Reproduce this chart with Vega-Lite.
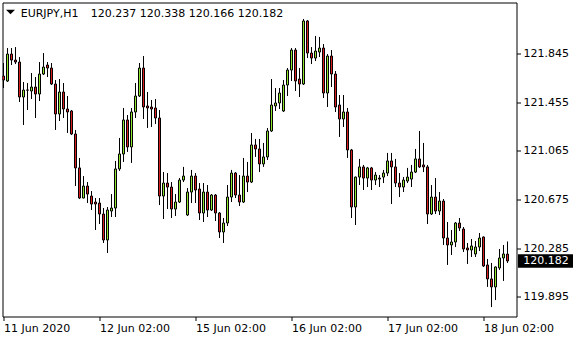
{
  "$schema": "https://vega.github.io/schema/vega-lite/v6.json",
  "width": 514,
  "height": 314,
  "autosize": {"type": "none"},
  "padding": {"left": 2.5, "top": 2.5, "right": 63.5, "bottom": 23.5},
  "background": "white",
  "config": {
    "view": {"stroke": "black", "strokeWidth": 1},
    "font": "DejaVu Sans",
    "text": {"font": "DejaVu Sans"}
  },
  "data": {
    "values": [
      {"i":0,"o":121.663,"h":121.767,"l":121.567,"c":121.631},
      {"i":1,"o":121.623,"h":121.887,"l":121.615,"c":121.839},
      {"i":2,"o":121.839,"h":121.887,"l":121.751,"c":121.791},
      {"i":3,"o":121.791,"h":121.895,"l":121.759,"c":121.775},
      {"i":4,"o":121.775,"h":121.815,"l":121.455,"c":121.495},
      {"i":5,"o":121.495,"h":121.615,"l":121.271,"c":121.551},
      {"i":6,"o":121.551,"h":121.607,"l":121.391,"c":121.550},
      {"i":7,"o":121.543,"h":121.687,"l":121.479,"c":121.575},
      {"i":8,"o":121.575,"h":121.655,"l":121.327,"c":121.519},
      {"i":9,"o":121.519,"h":121.775,"l":121.463,"c":121.679},
      {"i":10,"o":121.679,"h":121.847,"l":121.671,"c":121.735},
      {"i":11,"o":121.751,"h":121.775,"l":121.655,"c":121.727},
      {"i":12,"o":121.727,"h":121.767,"l":121.591,"c":121.599},
      {"i":13,"o":121.599,"h":121.631,"l":121.231,"c":121.359},
      {"i":14,"o":121.359,"h":121.639,"l":121.303,"c":121.535},
      {"i":15,"o":121.535,"h":121.607,"l":121.327,"c":121.399},
      {"i":16,"o":121.399,"h":121.503,"l":121.207,"c":121.375},
      {"i":17,"o":121.383,"h":121.391,"l":121.191,"c":121.199},
      {"i":18,"o":121.199,"h":121.231,"l":120.782,"c":120.927},
      {"i":19,"o":120.927,"h":121.007,"l":120.678,"c":120.686},
      {"i":20,"o":120.686,"h":120.862,"l":120.684,"c":120.782},
      {"i":21,"o":120.782,"h":120.814,"l":120.646,"c":120.718},
      {"i":22,"o":120.702,"h":120.742,"l":120.590,"c":120.638},
      {"i":23,"o":120.654,"h":120.686,"l":120.430,"c":120.638},
      {"i":24,"o":120.646,"h":120.686,"l":120.478,"c":120.558},
      {"i":25,"o":120.558,"h":120.606,"l":120.326,"c":120.350},
      {"i":26,"o":120.350,"h":120.614,"l":120.246,"c":120.590},
      {"i":27,"o":120.582,"h":120.718,"l":120.534,"c":120.606},
      {"i":28,"o":120.606,"h":120.983,"l":120.534,"c":120.919},
      {"i":29,"o":120.919,"h":121.167,"l":120.903,"c":121.039},
      {"i":30,"o":121.039,"h":121.407,"l":120.975,"c":121.311},
      {"i":31,"o":121.311,"h":121.351,"l":121.055,"c":121.095},
      {"i":32,"o":121.095,"h":121.407,"l":120.967,"c":121.375},
      {"i":33,"o":121.375,"h":121.607,"l":121.327,"c":121.503},
      {"i":34,"o":121.503,"h":121.767,"l":121.495,"c":121.727},
      {"i":35,"o":121.727,"h":121.823,"l":121.319,"c":121.415},
      {"i":36,"o":121.423,"h":121.535,"l":121.247,"c":121.407},
      {"i":37,"o":121.415,"h":121.471,"l":121.255,"c":121.399},
      {"i":38,"o":121.407,"h":121.479,"l":121.279,"c":121.327},
      {"i":39,"o":121.327,"h":121.391,"l":120.630,"c":120.702},
      {"i":40,"o":120.702,"h":120.894,"l":120.518,"c":120.806},
      {"i":41,"o":120.806,"h":120.886,"l":120.598,"c":120.774},
      {"i":42,"o":120.774,"h":120.814,"l":120.526,"c":120.598},
      {"i":43,"o":120.598,"h":120.718,"l":120.542,"c":120.654},
      {"i":44,"o":120.654,"h":120.846,"l":120.646,"c":120.830},
      {"i":45,"o":120.830,"h":120.935,"l":120.814,"c":120.862},
      {"i":46,"o":120.550,"h":120.766,"l":120.542,"c":120.734},
      {"i":47,"o":120.734,"h":120.911,"l":120.646,"c":120.862},
      {"i":48,"o":120.862,"h":120.886,"l":120.646,"c":120.750},
      {"i":49,"o":120.758,"h":120.806,"l":120.510,"c":120.566},
      {"i":50,"o":120.566,"h":120.806,"l":120.494,"c":120.734},
      {"i":51,"o":120.734,"h":120.790,"l":120.534,"c":120.590},
      {"i":52,"o":120.590,"h":120.718,"l":120.582,"c":120.710},
      {"i":53,"o":120.710,"h":120.718,"l":120.502,"c":120.566},
      {"i":54,"o":120.566,"h":120.574,"l":120.366,"c":120.414},
      {"i":55,"o":120.414,"h":120.526,"l":120.326,"c":120.486},
      {"i":56,"o":120.486,"h":120.790,"l":120.462,"c":120.694},
      {"i":57,"o":120.694,"h":120.911,"l":120.654,"c":120.886},
      {"i":58,"o":120.886,"h":120.894,"l":120.686,"c":120.710},
      {"i":59,"o":120.710,"h":120.870,"l":120.622,"c":120.654},
      {"i":60,"o":120.654,"h":121.007,"l":120.646,"c":120.862},
      {"i":61,"o":120.862,"h":120.975,"l":120.734,"c":120.814},
      {"i":62,"o":120.814,"h":121.207,"l":120.806,"c":121.111},
      {"i":63,"o":121.111,"h":121.159,"l":121.015,"c":121.079},
      {"i":64,"o":121.079,"h":121.159,"l":120.894,"c":120.959},
      {"i":65,"o":120.959,"h":121.127,"l":120.935,"c":121.015},
      {"i":66,"o":121.015,"h":121.247,"l":120.991,"c":121.223},
      {"i":67,"o":121.223,"h":121.639,"l":121.215,"c":121.431},
      {"i":68,"o":121.423,"h":121.567,"l":121.383,"c":121.447},
      {"i":69,"o":121.447,"h":121.567,"l":121.399,"c":121.527},
      {"i":70,"o":121.383,"h":121.631,"l":121.375,"c":121.591},
      {"i":71,"o":121.591,"h":121.727,"l":121.503,"c":121.711},
      {"i":72,"o":121.711,"h":121.887,"l":121.623,"c":121.871},
      {"i":73,"o":121.871,"h":121.887,"l":121.543,"c":121.623},
      {"i":74,"o":121.639,"h":121.727,"l":121.495,"c":121.599},
      {"i":75,"o":121.599,"h":122.120,"l":121.591,"c":122.104},
      {"i":76,"o":122.104,"h":122.112,"l":121.807,"c":121.847},
      {"i":77,"o":121.847,"h":121.895,"l":121.759,"c":121.807},
      {"i":78,"o":121.807,"h":121.984,"l":121.783,"c":121.863},
      {"i":79,"o":121.855,"h":121.976,"l":121.815,"c":121.887},
      {"i":80,"o":121.887,"h":121.919,"l":121.487,"c":121.527},
      {"i":81,"o":121.527,"h":121.839,"l":121.415,"c":121.823},
      {"i":82,"o":121.823,"h":121.871,"l":121.575,"c":121.679},
      {"i":83,"o":121.679,"h":121.703,"l":121.375,"c":121.415},
      {"i":84,"o":121.431,"h":121.511,"l":121.175,"c":121.319},
      {"i":85,"o":121.319,"h":121.511,"l":121.255,"c":121.375},
      {"i":86,"o":121.375,"h":121.407,"l":121.007,"c":121.071},
      {"i":87,"o":121.071,"h":121.079,"l":120.526,"c":120.614},
      {"i":88,"o":120.614,"h":120.858,"l":120.470,"c":120.854},
      {"i":89,"o":120.854,"h":120.999,"l":120.790,"c":120.935},
      {"i":90,"o":120.935,"h":120.951,"l":120.750,"c":120.846},
      {"i":91,"o":120.846,"h":120.935,"l":120.774,"c":120.927},
      {"i":92,"o":120.927,"h":120.935,"l":120.750,"c":120.830},
      {"i":93,"o":120.830,"h":120.894,"l":120.790,"c":120.870},
      {"i":94,"o":120.846,"h":120.870,"l":120.774,"c":120.838},
      {"i":95,"o":120.854,"h":120.911,"l":120.806,"c":120.886},
      {"i":96,"o":120.886,"h":121.047,"l":120.862,"c":120.983},
      {"i":97,"o":120.983,"h":121.047,"l":120.638,"c":120.935},
      {"i":98,"o":120.935,"h":120.999,"l":120.774,"c":120.806},
      {"i":99,"o":120.806,"h":120.886,"l":120.694,"c":120.774},
      {"i":100,"o":120.774,"h":120.854,"l":120.734,"c":120.830},
      {"i":101,"o":120.822,"h":120.927,"l":120.806,"c":120.854},
      {"i":102,"o":120.838,"h":120.951,"l":120.774,"c":120.894},
      {"i":103,"o":120.894,"h":121.079,"l":120.886,"c":120.999},
      {"i":104,"o":120.999,"h":121.223,"l":120.927,"c":120.935},
      {"i":105,"o":120.951,"h":121.127,"l":120.894,"c":120.935},
      {"i":106,"o":120.935,"h":120.951,"l":120.478,"c":120.558},
      {"i":107,"o":120.558,"h":120.790,"l":120.550,"c":120.694},
      {"i":108,"o":120.694,"h":120.846,"l":120.558,"c":120.582},
      {"i":109,"o":120.582,"h":120.734,"l":120.550,"c":120.662},
      {"i":110,"o":120.662,"h":120.678,"l":120.310,"c":120.366},
      {"i":111,"o":120.366,"h":120.494,"l":120.150,"c":120.310},
      {"i":112,"o":120.310,"h":120.430,"l":120.230,"c":120.334},
      {"i":113,"o":120.334,"h":120.494,"l":120.294,"c":120.486},
      {"i":114,"o":120.486,"h":120.526,"l":120.422,"c":120.446},
      {"i":115,"o":120.438,"h":120.454,"l":120.254,"c":120.278},
      {"i":116,"o":120.286,"h":120.326,"l":120.158,"c":120.270},
      {"i":117,"o":120.270,"h":120.358,"l":120.214,"c":120.302},
      {"i":118,"o":120.238,"h":120.342,"l":120.214,"c":120.294},
      {"i":119,"o":120.294,"h":120.406,"l":120.262,"c":120.366},
      {"i":120,"o":120.374,"h":120.378,"l":120.134,"c":120.142},
      {"i":121,"o":120.150,"h":120.198,"l":119.974,"c":120.038},
      {"i":122,"o":120.038,"h":120.166,"l":119.813,"c":119.974},
      {"i":123,"o":119.974,"h":120.138,"l":119.869,"c":120.134},
      {"i":124,"o":120.126,"h":120.278,"l":120.110,"c":120.206},
      {"i":125,"o":120.206,"h":120.310,"l":120.022,"c":120.238},
      {"i":126,"o":120.237,"h":120.338,"l":120.166,"c":120.182}
    ]
  },
  "encoding": {
    "x": {
      "field": "i",
      "type": "quantitative",
      "scale": {"domain": [-0.25, 128.25], "nice": false, "zero": false, "padding": 0},
      "axis": {
        "orient": "bottom",
        "values": [0, 24, 48, 72, 96, 120],
        "labelExpr": "datum.value == 0 ? '11 Jun 2020' : datum.value == 24 ? '12 Jun 02:00' : datum.value == 48 ? '15 Jun 02:00' : datum.value == 72 ? '16 Jun 02:00' : datum.value == 96 ? '17 Jun 02:00' : '18 Jun 02:00'",
        "labelAlign": "left",
        "labelFlush": false,
        "labelBound": false,
        "labelOverlap": false,
        "labelFont": "DejaVu Sans",
        "labelFontSize": 11,
        "labelColor": "black",
        "labelPadding": 2,
        "tickSize": 4,
        "tickColor": "black",
        "domain": false,
        "grid": false,
        "title": null
      }
    }
  },
  "layer": [
    {
      "transform": [{"filter": "datum.c >= datum.o"}],
      "mark": {"type": "rule", "color": "black", "strokeWidth": 1, "clip": true},
      "encoding": {
        "y": {
          "field": "h",
          "type": "quantitative",
          "scale": {"domain": [119.7373, 122.2518], "nice": false, "zero": false},
          "axis": {
            "orient": "right",
            "values": [119.895, 120.285, 120.675, 121.065, 121.455, 121.845],
            "format": ".3f",
            "labelFont": "DejaVu Sans",
            "labelFontSize": 11,
            "labelColor": "black",
            "labelPadding": 2.5,
            "tickSize": 4,
            "tickColor": "black",
            "domain": false,
            "grid": false,
            "title": null
          }
        },
        "y2": {"field": "c"}
      }
    },
    {
      "transform": [{"filter": "datum.c >= datum.o"}],
      "mark": {"type": "rule", "color": "black", "strokeWidth": 1, "clip": true},
      "encoding": {
        "y": {"field": "o", "type": "quantitative"},
        "y2": {"field": "l"}
      }
    },
    {
      "transform": [{"filter": "datum.c < datum.o"}],
      "mark": {"type": "rule", "color": "black", "strokeWidth": 1, "clip": true},
      "encoding": {
        "y": {"field": "h", "type": "quantitative"},
        "y2": {"field": "o"}
      }
    },
    {
      "transform": [{"filter": "datum.c < datum.o"}],
      "mark": {"type": "rule", "color": "black", "strokeWidth": 1, "clip": true},
      "encoding": {
        "y": {"field": "c", "type": "quantitative"},
        "y2": {"field": "l"}
      }
    },
    {
      "mark": {"type": "bar", "size": 2, "stroke": "black", "strokeWidth": 1, "clip": true},
      "encoding": {
        "y": {"field": "o", "type": "quantitative"},
        "y2": {"field": "c"},
        "fill": {
          "condition": {"test": "datum.c >= datum.o", "value": "#8EE52E"},
          "value": "#D81E1E"
        }
      }
    },
    {
      "transform": [{"filter": "datum.i == 126"}],
      "mark": {"type": "point", "shape": "M-1,-0.5L1,-0.5L0,0.5Z", "filled": true, "color": "black", "size": 81, "opacity": 1},
      "encoding": {
        "x": {"datum": 1.75},
        "y": {"datum": 122.1757}
      }
    },
    {
      "transform": [{"filter": "datum.i == 126"}],
      "mark": {"type": "text", "align": "left", "baseline": "alphabetic", "fontSize": 11, "color": "black"},
      "encoding": {
        "x": {"datum": 4.3},
        "y": {"datum": 122.1381},
        "text": {"value": "EURJPY,H1"}
      }
    },
    {
      "transform": [{"filter": "datum.i == 126"}],
      "mark": {"type": "text", "align": "left", "baseline": "alphabetic", "fontSize": 11, "color": "black"},
      "encoding": {
        "x": {"datum": 21.8},
        "y": {"datum": 122.1381},
        "text": {"value": "120.237 120.338 120.166 120.182"}
      }
    },
    {
      "transform": [{"filter": "datum.i == 126"}],
      "mark": {"type": "rect", "color": "black"},
      "encoding": {
        "x": {"datum": 128.625},
        "x2": {"datum": 142.375},
        "y": {"datum": 120.2354},
        "y2": {"datum": 120.1281}
      }
    },
    {
      "transform": [{"filter": "datum.i == 126"}],
      "mark": {"type": "text", "align": "left", "baseline": "middle", "fontSize": 11, "color": "white"},
      "encoding": {
        "x": {"datum": 129.95},
        "y": {"field": "c", "type": "quantitative"},
        "text": {"field": "c", "type": "quantitative", "format": ".3f"}
      }
    }
  ]
}
